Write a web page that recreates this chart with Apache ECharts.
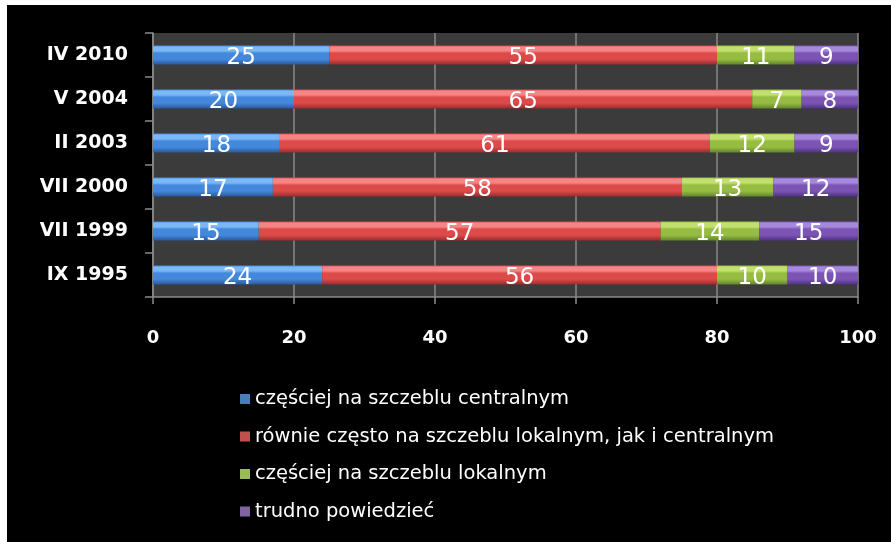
<!DOCTYPE html>
<html>
<head>
<meta charset="utf-8">
<script src="https://cdn.jsdelivr.net/npm/echarts@6/dist/echarts.min.js"></script>
<style>
  html, body { margin: 0; padding: 0; background: #ffffff; }
  #echarts { position: absolute; left: 7px; top: 5px; width: 884px; height: 537px; background: #000; }
</style>
</head>
<body>
<div id="echarts"></div>
<script>
// Dane wykresu (od dołu do góry)
var kategorie = ['IX 1995', 'VII 1999', 'VII 2000', 'II 2003', 'V 2004', 'IV 2010'];
var centralnym = [24, 15, 17, 18, 20, 25];
var rownieCzesto = [56, 57, 58, 61, 65, 55];
var lokalnym = [10, 14, 13, 12, 7, 11];
var trudno = [10, 15, 12, 9, 8, 9];
var nazwy = [
    'częściej na szczeblu centralnym',
    'równie często na szczeblu lokalnym, jak i centralnym',
    'częściej na szczeblu lokalnym',
    'trudno powiedzieć'
];
var osX = [0, 20, 40, 60, 80, 100];

var chart = echarts.init(document.getElementById('echarts'));

// gradient imitujący wypukłe słupki
function gradient(light, mid, dark) {
    return new echarts.graphic.LinearGradient(0, 0, 0, 1, [
        { offset: 0, color: mid },
        { offset: 0.08, color: light },
        { offset: 0.28, color: light },
        { offset: 0.4, color: mid },
        { offset: 0.72, color: mid },
        { offset: 1, color: dark }
    ]);
}

var kolory = [
    ['#7ab8f6', '#4488dc', '#2a5a9c'],
    ['#f68686', '#dc4a4a', '#9a2c2c'],
    ['#c2e070', '#96bc42', '#62862a'],
    ['#a688dc', '#7c54b4', '#4e3284']
];
var legendaKolory = ['#4a7ebb', '#c0504d', '#9bbb59', '#8064a2'];

function seria(i, dane) {
    return {
        name: nazwy[i],
        type: 'bar',
        stack: 'suma',
        barWidth: '43%',
        data: dane,
        itemStyle: { color: gradient(kolory[i][0], kolory[i][1], kolory[i][2]) },
        label: {
            show: true,
            position: 'inside',
            color: '#ffffff',
            fontSize: 23,
            fontFamily: 'DejaVu Sans',
            offset: [0, 3]
        }
    };
}

var options = {
    backgroundColor: '#000000',
    animation: false,
    grid: {
        left: 146,
        top: 28,
        width: 705,
        height: 264,
        show: true,
        backgroundColor: '#3b3b3b',
        borderWidth: 0
    },
    legend: {
        orient: 'vertical',
        left: 228,
        top: 379,
        itemWidth: 10,
        itemHeight: 10,
        itemGap: 17.5,
        icon: 'rect',
        data: nazwy.map(function (n, i) {
            return { name: n, itemStyle: { color: legendaKolory[i] } };
        }),
        textStyle: { color: '#ffffff', fontSize: 19.5, fontFamily: 'DejaVu Sans' }
    },
    xAxis: {
        type: 'value',
        min: osX[0],
        max: osX[osX.length - 1],
        interval: 20,
        axisLine: { show: true, lineStyle: { color: '#8a8a8a', width: 1.5 } },
        axisTick: { show: true, length: 7, lineStyle: { color: '#8a8a8a', width: 1.5 } },
        splitLine: { show: true, lineStyle: { color: '#8a8a8a', width: 1.5 } },
        axisLabel: {
            color: '#ffffff',
            fontSize: 18,
            fontWeight: 'bold',
            fontFamily: 'DejaVu Sans',
            margin: 32
        }
    },
    yAxis: {
        type: 'category',
        data: kategorie,
        axisLine: { show: true, lineStyle: { color: '#8a8a8a', width: 1.5 } },
        axisTick: { show: true, length: 8, lineStyle: { color: '#8a8a8a', width: 1.5 } },
        axisLabel: {
            color: '#ffffff',
            fontSize: 19,
            fontWeight: 'bold',
            fontFamily: 'DejaVu Sans',
            margin: 25
        }
    },
    series: [
        seria(0, centralnym),
        seria(1, rownieCzesto),
        seria(2, lokalnym),
        seria(3, trudno)
    ]
};

chart.setOption(options);
</script>
</body>
</html>
